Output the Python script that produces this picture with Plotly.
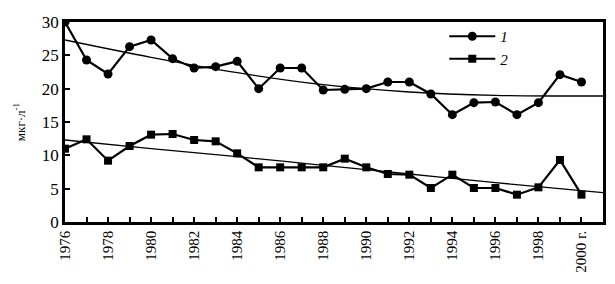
import plotly.graph_objects as go

years = list(range(1976, 2001))
series1 = [30, 24.3, 22.2, 26.3, 27.3, 24.5, 23.1, 23.3, 24.1, 20.0, 23.1, 23.1, 19.8,
           19.9, 20.0, 21.0, 21.0, 19.2, 16.1, 17.9, 18.0, 16.1, 17.9, 22.1, 21.0]
series2 = [11.0, 12.4, 9.2, 11.4, 13.1, 13.2, 12.3, 12.1, 10.3, 8.2, 8.2, 8.2, 8.2,
           9.5, 8.2, 7.2, 7.1, 5.1, 7.1, 5.1, 5.1, 4.1, 5.2, 9.3, 4.1]

trend_years = [1976, 1980, 1984, 1988, 1992, 1996, 2001]
trend1 = [27.3, 24.7, 22.4, 20.6, 19.5, 19.0, 18.9]
trend2 = [12.3, 11.0, 9.8, 8.5, 7.2, 5.9, 4.4]

tick_vals = list(range(1976, 2001, 2))
tick_text = [str(y) for y in range(1976, 2000, 2)] + ["2000 г."]
legend_names = ["<i>1</i>", "<i>2</i>"]

font = "Liberation Serif, Times New Roman, serif"

fig = go.Figure()
fig.add_trace(go.Scatter(x=trend_years, y=trend1, mode="lines", line=dict(color="black", width=1.3, shape="spline"),
                         showlegend=False, hoverinfo="skip"))
fig.add_trace(go.Scatter(x=trend_years, y=trend2, mode="lines", line=dict(color="black", width=1.3, shape="spline"),
                         showlegend=False, hoverinfo="skip"))
fig.add_trace(go.Scatter(x=years, y=series1, mode="lines+markers", name=legend_names[0],
                         line=dict(color="black", width=2.2),
                         marker=dict(symbol="circle", size=9, color="black")))
fig.add_trace(go.Scatter(x=years, y=series2, mode="lines+markers", name=legend_names[1],
                         line=dict(color="black", width=2.2),
                         marker=dict(symbol="square", size=8, color="black")))

fig.update_layout(
    width=607, height=276,
    margin=dict(l=57, r=12, t=12, b=62),
    paper_bgcolor="white", plot_bgcolor="white",
    font=dict(family=font, color="black", size=15),
    legend=dict(x=0.705, y=1.01, xanchor="left", yanchor="top", bgcolor="rgba(0,0,0,0)",
                font=dict(size=15, family=font), tracegroupgap=0, itemwidth=46),
    xaxis=dict(range=[1976, 2001], tickmode="array", tickvals=tick_vals, ticktext=tick_text,
               tickangle=-90, ticks="inside", ticklen=5, tickwidth=1.5, tickcolor="black",
               minor=dict(dtick=1, ticks="inside", ticklen=5, tickwidth=1.5, tickcolor="black"),
               showline=True, linecolor="black", linewidth=2.5, mirror=True, automargin=False,
               showgrid=False, zeroline=False, tickfont=dict(size=15)),
    yaxis=dict(range=[0, 30], tickvals=[0, 5, 10, 15, 20, 25, 30], ticks="inside", ticklen=5,
               tickwidth=1.5, tickcolor="black", automargin=False,
               showline=True, linecolor="black", linewidth=2.5, mirror=True,
               showgrid=False, zeroline=False, tickfont=dict(size=17),
               title=dict(text="мкг·л<sup>-1</sup>", font=dict(size=13), standoff=14)),
)

fig.write_html("out.html")
